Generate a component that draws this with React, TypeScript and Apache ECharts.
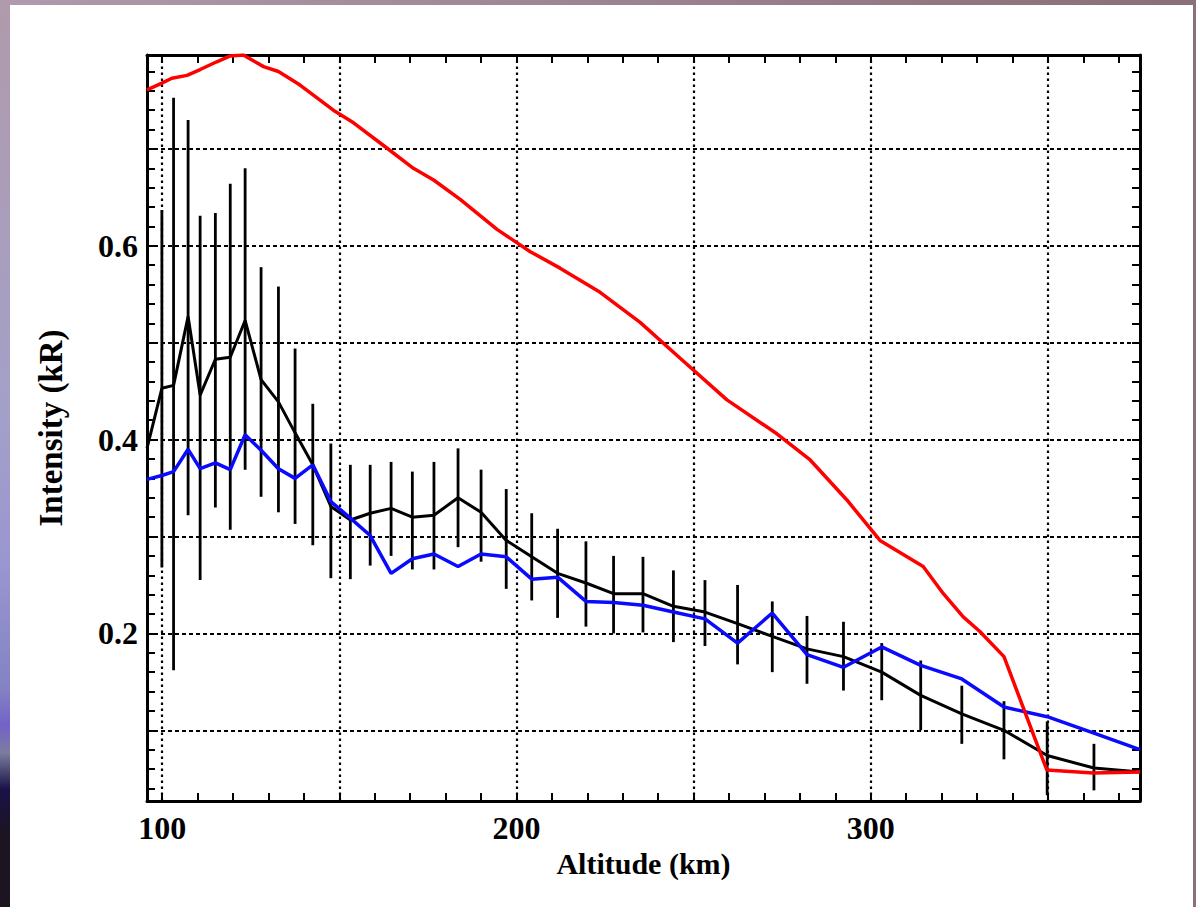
import React, { useEffect, useRef } from "react";
import * as echarts from "echarts";

// ---- data ----
const altitude = [95.7, 99.9, 103.2, 107.3, 110.7, 115.0, 119.2, 123.4, 127.9, 132.8, 137.5, 142.5, 147.6, 153.1, 158.7, 164.6, 170.6, 176.7, 183.5, 190.0, 197.1, 204.3, 211.6, 219.6, 227.4, 235.7, 244.3, 253.2, 262.4, 272.2, 282.0, 292.3, 303.1, 314.1, 325.7, 337.6, 349.8, 363.0, 376.0];
const blackIntensity = [0.391, 0.453, 0.456, 0.527, 0.446, 0.483, 0.485, 0.523, 0.462, 0.439, 0.407, 0.374, 0.331, 0.317, 0.324, 0.329, 0.320, 0.322, 0.340, 0.325, 0.296, 0.279, 0.262, 0.252, 0.241, 0.241, 0.228, 0.222, 0.210, 0.197, 0.184, 0.176, 0.160, 0.136, 0.117, 0.100, 0.074, 0.061, 0.057];
const blueIntensity = [0.359, 0.363, 0.367, 0.390, 0.370, 0.376, 0.369, 0.405, 0.389, 0.370, 0.360, 0.374, 0.336, 0.319, 0.301, 0.262, 0.277, 0.282, 0.269, 0.282, 0.279, 0.256, 0.258, 0.233, 0.232, 0.229, 0.222, 0.215, 0.190, 0.221, 0.178, 0.165, 0.186, 0.167, 0.153, 0.124, 0.114, 0.097, 0.080];
const errHigh = [null, 0.637, 0.753, 0.730, 0.631, 0.634, 0.664, 0.680, 0.578, 0.558, 0.494, 0.437, 0.396, 0.374, 0.374, 0.377, 0.367, 0.377, 0.391, 0.369, 0.349, 0.324, 0.308, 0.295, 0.280, 0.279, 0.265, 0.255, 0.250, 0.233, 0.218, 0.212, 0.190, 0.172, 0.146, 0.130, 0.109, 0.086, null];
const errLow = [null, 0.268, 0.162, 0.322, 0.255, 0.330, 0.307, 0.369, 0.341, 0.325, 0.313, 0.291, 0.257, 0.256, 0.270, 0.280, 0.266, 0.266, 0.289, 0.274, 0.246, 0.234, 0.216, 0.207, 0.200, 0.201, 0.191, 0.187, 0.168, 0.160, 0.148, 0.141, 0.131, 0.100, 0.086, 0.070, 0.033, 0.038, null];
const redAltitude = [95.7, 99.9, 102.7, 107.0, 110.7, 115.4, 119.2, 122.9, 126.2, 128.6, 132.8, 138.9, 148.3, 154.0, 163.4, 170.9, 176.6, 184.1, 194.5, 203.9, 212.3, 223.6, 234.9, 246.2, 259.4, 273.5, 282.9, 293.2, 302.6, 314.8, 320.5, 326.1, 330.8, 337.6, 349.7, 362.8, 376.0];
const redIntensity = [0.761, 0.768, 0.773, 0.776, 0.782, 0.790, 0.796, 0.797, 0.790, 0.785, 0.780, 0.766, 0.740, 0.727, 0.701, 0.680, 0.668, 0.648, 0.617, 0.594, 0.577, 0.552, 0.521, 0.484, 0.441, 0.406, 0.379, 0.338, 0.296, 0.269, 0.241, 0.217, 0.202, 0.176, 0.059, 0.056, 0.057];

const xLabelValues = [100, 200, 300];
const yLabelValues = [0.2, 0.4, 0.6];
const xGridValues = [100, 150, 200, 250, 300, 350];
const yGridValues = [0.1, 0.2, 0.3, 0.4, 0.5, 0.6, 0.7];
const xMin = 95.7, xMax = 376.0, yMin = 0.027, yMax = 0.797;

const xTickValues: number[] = [];
for (let v = 100; v <= 370; v += 10) xTickValues.push(v);
const yTickValues: number[] = [];
for (let k = 2; k <= 39; k++) yTickValues.push(Math.round(k * 2) / 100);

const FONT = "'Liberation Serif', 'Times New Roman', serif";

export default function App() {
  const ref = useRef<HTMLDivElement>(null);
  useEffect(() => {
    if (!ref.current) return;
    const chart = echarts.init(ref.current, undefined, { renderer: "svg" });
    const axisLine = { show: true, onZero: false, lineStyle: { color: "#000", width: 3 } };
    const tick = (vals: number[]) => ({ show: true, inside: true, length: 8, customValues: vals, lineStyle: { color: "#000", width: 2 } });
    const gridLines: any[] = [
      ...yGridValues.map((v) => ({ yAxis: v, lineStyle: { color: "#000", width: 2.2, type: [4, 3] } })),
      ...xGridValues.map((v) => ({ xAxis: v, lineStyle: { color: "#000", width: 2.2, type: [2.5, 3.5] } })),
    ];
    const errData = altitude
      .map((a, i) => (errHigh[i] == null ? null : [a, errLow[i], errHigh[i]]))
      .filter((d) => d != null);
    chart.setOption({
      animation: false,
      grid: { left: 147, right: 56, top: 55, bottom: 106 },
      xAxis: [
        {
          type: "value", min: xMin, max: xMax, position: "bottom",
          axisLine, splitLine: { show: false },
          axisTick: tick(xTickValues),
          axisLabel: { customValues: xLabelValues, margin: 11, color: "#000", fontSize: 32, fontWeight: "bold", fontFamily: FONT, formatter: (v: number) => String(Math.round(v)) },
          name: "Altitude (km)", nameLocation: "middle", nameGap: 44,
          nameTextStyle: { color: "#000", fontSize: 30, fontWeight: "bold", fontFamily: FONT },
        },
        {
          type: "value", min: xMin, max: xMax, position: "top",
          axisLine, splitLine: { show: false },
          axisTick: tick(xTickValues), axisLabel: { show: false },
        },
      ],
      yAxis: [
        {
          type: "value", min: yMin, max: yMax, position: "left",
          axisLine, splitLine: { show: false },
          axisTick: tick(yTickValues),
          axisLabel: { customValues: yLabelValues, margin: 9, color: "#000", fontSize: 32, fontWeight: "bold", fontFamily: FONT, formatter: (v: number) => v.toFixed(1) },
          name: "Intensity (kR)", nameLocation: "middle", nameGap: 80, nameRotate: 90,
          nameTextStyle: { color: "#000", fontSize: 33, fontWeight: "bold", fontFamily: FONT },
        },
        {
          type: "value", min: yMin, max: yMax, position: "right",
          axisLine, splitLine: { show: false },
          axisTick: tick(yTickValues), axisLabel: { show: false },
        },
      ],
      series: [
        {
          type: "line", name: "grid", data: [], z: 1, silent: true,
          markLine: { z: 1, silent: true, symbol: ["none", "none"], label: { show: false }, emphasis: { disabled: true }, data: gridLines },
        },
        {
          type: "custom", name: "error", z: 2, silent: true,
          data: errData,
          encode: { x: 0, y: [1, 2] },
          renderItem: (params: any, api: any) => {
            const x = api.value(0);
            const p1 = api.coord([x, api.value(1)]);
            const p2 = api.coord([x, api.value(2)]);
            return { type: "line", shape: { x1: p1[0], y1: p1[1], x2: p2[0], y2: p2[1] }, style: { stroke: "#000", lineWidth: 2.8 } };
          },
        },
        {
          type: "line", name: "black", z: 3, symbol: "none", silent: true,
          data: altitude.map((a, i) => [a, blackIntensity[i]]),
          lineStyle: { color: "#000", width: 3 },
        },
        {
          type: "line", name: "blue", z: 4, symbol: "none", silent: true,
          data: altitude.map((a, i) => [a, blueIntensity[i]]),
          lineStyle: { color: "#0a0aff", width: 3.5 },
        },
        {
          type: "line", name: "red", z: 5, symbol: "none", silent: true,
          data: redAltitude.map((a, i) => [a, redIntensity[i]]),
          lineStyle: { color: "#ff0000", width: 3.5 },
        },
      ],
    });
    return () => chart.dispose();
  }, []);

  return (
    <div style={{ position: "absolute", left: 0, top: 0, width: 1196, height: 907, overflow: "hidden" }}>
      <div style={{ position: "absolute", left: 0, top: 0, width: 1196, height: 907, background: "linear-gradient(to right, #b09aab, #8a6e78)" }} />
      <div style={{ position: "absolute", left: 0, top: 0, width: 10, height: 907, background: "linear-gradient(to bottom, #b09aab 0%, #ab9db8 19%, #a3a0c8 45%, #9a96d0 62%, #8482c4 76%, #7262c8 80%, #7c7ca0 83%, #1a1248 87%, #1c1420 92%, #1c1420 100%)" }} />
      <div style={{ position: "absolute", left: 1193, top: 0, width: 3, height: 907, background: "#8a7078" }} />
      <div style={{ position: "absolute", left: 10, top: 5, width: 1183, height: 902, background: "#ffffff" }} />
      <div ref={ref} style={{ position: "absolute", left: 0, top: 0, width: 1196, height: 907 }} />
    </div>
  );
}
